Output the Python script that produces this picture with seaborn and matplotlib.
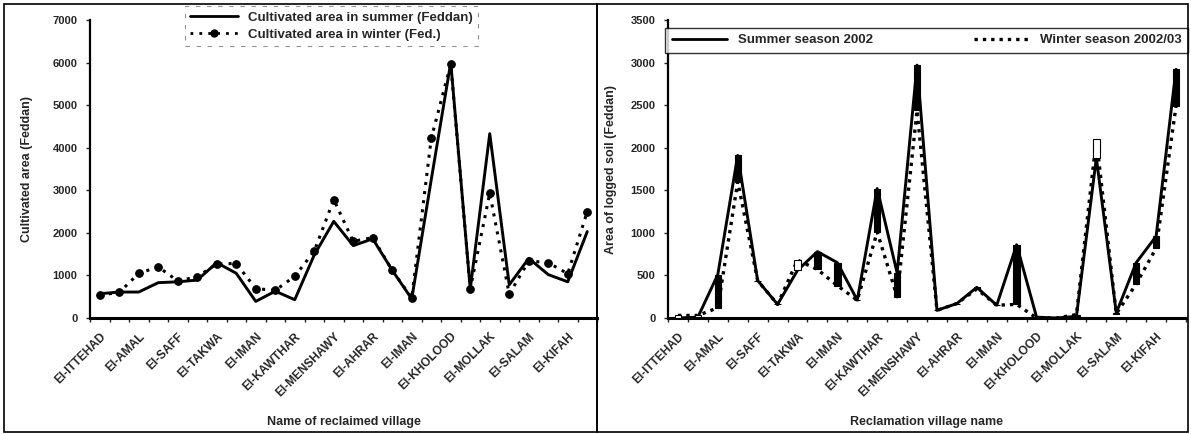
import numpy as np
import pandas as pd
import matplotlib
matplotlib.use("Agg")
import matplotlib.pyplot as plt
import seaborn as sns
from matplotlib.lines import Line2D
from matplotlib.patches import Rectangle

# ---------------- data ----------------
village_labels = ["El-ITTEHAD", "El-AMAL", "El-SAFF", "El-TAKWA", "El-IMAN",
                  "El-KAWTHAR", "El-MENSHAWY", "El-AHRAR", "El-IMAN",
                  "El-KHOLOOD", "El-MOLLAK", "El-SALAM", "El-KIFAH"]
n_points = 26

cult_summer = [570, 610, 610, 830, 850, 890, 1300, 1050, 390, 630, 430, 1480, 2270,
               1700, 1860, 1120, 450, 3250, 6000, 680, 4330, 780, 1400, 1020, 850, 2030]
cult_winter = [540, 600, 1050, 1200, 870, 970, 1270, 1280, 690, 650, 980, 1570, 2780,
               1800, 1890, 1120, 470, 4220, 5960, 680, 2930, 560, 1340, 1300, 1040, 2500]

logged_summer = [0, 10, 510, 1910, 440, 160, 560, 780, 650, 210, 1520, 530, 2970,
                 90, 170, 360, 150, 860, 10, 0, 20, 1880, 60, 650, 960, 2920]
logged_winter = [30, 30, 120, 1600, 440, 160, 680, 570, 380, 210, 1010, 250, 2440,
                 90, 170, 340, 150, 160, 0, 0, 40, 2100, 50, 400, 820, 2490]

left_yticks = [0, 1000, 2000, 3000, 4000, 5000, 6000, 7000]
right_yticks = [0, 500, 1000, 1500, 2000, 2500, 3000, 3500]

idx = np.arange(n_points)
df_left = pd.DataFrame({"i": idx, "summer": cult_summer, "winter": cult_winter})
df_right = pd.DataFrame({"i": idx, "summer": logged_summer, "winter": logged_winter})

# ---------------- style ----------------
sns.set_style("white")
plt.rcParams["font.family"] = ["Liberation Sans", "DejaVu Sans"]
plt.rcParams["font.weight"] = "bold"
plt.rcParams["axes.labelweight"] = "bold"

fig = plt.figure(figsize=(11.91, 4.34), dpi=100)
ax1 = fig.add_axes([90 / 1191, 1 - 318 / 434, 507 / 1191, 298 / 434])
ax2 = fig.add_axes([668 / 1191, 1 - 318 / 434, 518 / 1191, 298 / 434])

# ---------------- left panel ----------------
sns.lineplot(data=df_left, x="i", y="summer", ax=ax1, color="black", lw=2.1,
             linestyle="-")
sns.lineplot(data=df_left, x="i", y="winter", ax=ax1, color="black", lw=2.2,
             linestyle=(0, (1, 2.0)), marker="o", markersize=5.5,
             markeredgecolor="black")
ax1.set_ylim(0, 7000)
ax1.set_xlim(-0.5, 25.1)
ax1.set_yticks(left_yticks)
ax1.set_ylabel("Cultivated area (Feddan)", fontsize=9, labelpad=14)
ax1.set_xlabel("Name of reclaimed village", fontsize=9, labelpad=12)

leg1 = ax1.legend(handles=[
    Line2D([], [], color="black", lw=2.0, linestyle="-"),
    Line2D([], [], color="black", lw=2.0, linestyle=(0, (1, 2.2)), marker="o",
           markersize=5),
], labels=["Cultivated area in summer (Feddan)", "Cultivated area in winter (Fed.)"],
    loc="upper left", bbox_to_anchor=(185 / 1191, 1 - 6 / 434),
    bbox_transform=fig.transFigure, fontsize=9.5, handlelength=3.6,
    labelspacing=0.4, frameon=True, fancybox=False, borderpad=0.4,
    borderaxespad=0)
leg1.get_frame().set_edgecolor("#777777")
leg1.get_frame().set_linestyle((0, (4, 6)))
leg1.get_frame().set_linewidth(0.8)

# ---------------- right panel ----------------
diff = np.array(logged_summer) - np.array(logged_winter)
lo = np.minimum(logged_summer, logged_winter)
colors = ["black" if d > 0 else "white" for d in diff]
ax2.bar(idx, np.abs(diff), bottom=lo, width=0.32, color=colors,
        edgecolor="black", linewidth=0.8, zorder=3)
sns.lineplot(data=df_right, x="i", y="summer", ax=ax2, color="black", lw=2.1,
             linestyle="-", zorder=2)
sns.lineplot(data=df_right, x="i", y="winter", ax=ax2, color="black", lw=2.4,
             linestyle=(0, (1, 1.5)), zorder=2)
ax2.set_ylim(0, 3500)
ax2.set_xlim(-0.5, 25.5)
ax2.set_yticks(right_yticks)
ax2.set_ylabel("Area of logged soil (Feddan)", fontsize=9, labelpad=10)
ax2.set_xlabel("Reclamation village name", fontsize=9, labelpad=12)

leg2 = ax2.legend(handles=[
    Line2D([], [], color="black", lw=2.0, linestyle="-"),
    Line2D([], [], color="black", lw=2.4, linestyle=(0, (1, 1.5))),
], labels=["Summer season 2002", "Winter season 2002/03"],
    loc="lower left", bbox_to_anchor=(665 / 1191, 1 - 53 / 434, 523 / 1191, 30 / 434),
    bbox_transform=fig.transFigure, mode="expand", ncol=2, fontsize=9.5,
    handlelength=4.2, frameon=True, fancybox=False, borderpad=0.5,
    borderaxespad=0)
leg2.get_frame().set_edgecolor("black")
leg2.get_frame().set_linewidth(1.0)

# ---------------- common axis styling ----------------
for ax in (ax1, ax2):
    for s in ("top", "right"):
        ax.spines[s].set_visible(False)
    ax.spines["left"].set_linewidth(1.6)
    ax.spines["bottom"].set_linewidth(2.2)
    ax.spines["left"].set_color("black")
    ax.spines["bottom"].set_color("black")
    ax.tick_params(axis="y", which="major", direction="out", length=3, width=1,
                   labelsize=8, pad=6, left=True)
    ax.set_xticks(np.arange(-0.5, n_points, 1.0))
    ax.set_xticklabels([])
    ax.tick_params(axis="x", which="major", direction="out", length=3, width=1,
                   bottom=True)
    ax.set_xticks(np.arange(0, n_points, 2), minor=True)
    ax.set_xticklabels(village_labels, minor=True, rotation=45, ha="right",
                       rotation_mode="anchor", fontsize=8.6, fontweight="bold")
    ax.tick_params(axis="x", which="minor", length=0, pad=9)
    for lbl in ax.get_yticklabels():
        lbl.set_fontweight("bold")

# chart borders
fig.patches.append(Rectangle((4 / 1191, 2 / 434), 593 / 1191, 428 / 434,
                             transform=fig.transFigure, fill=False,
                             edgecolor="black", linewidth=1.2))
fig.patches.append(Rectangle((597 / 1191, 2 / 434), 591 / 1191, 428 / 434,
                             transform=fig.transFigure, fill=False,
                             edgecolor="black", linewidth=1.2))

fig.savefig("out.png", dpi=100, facecolor="white")
